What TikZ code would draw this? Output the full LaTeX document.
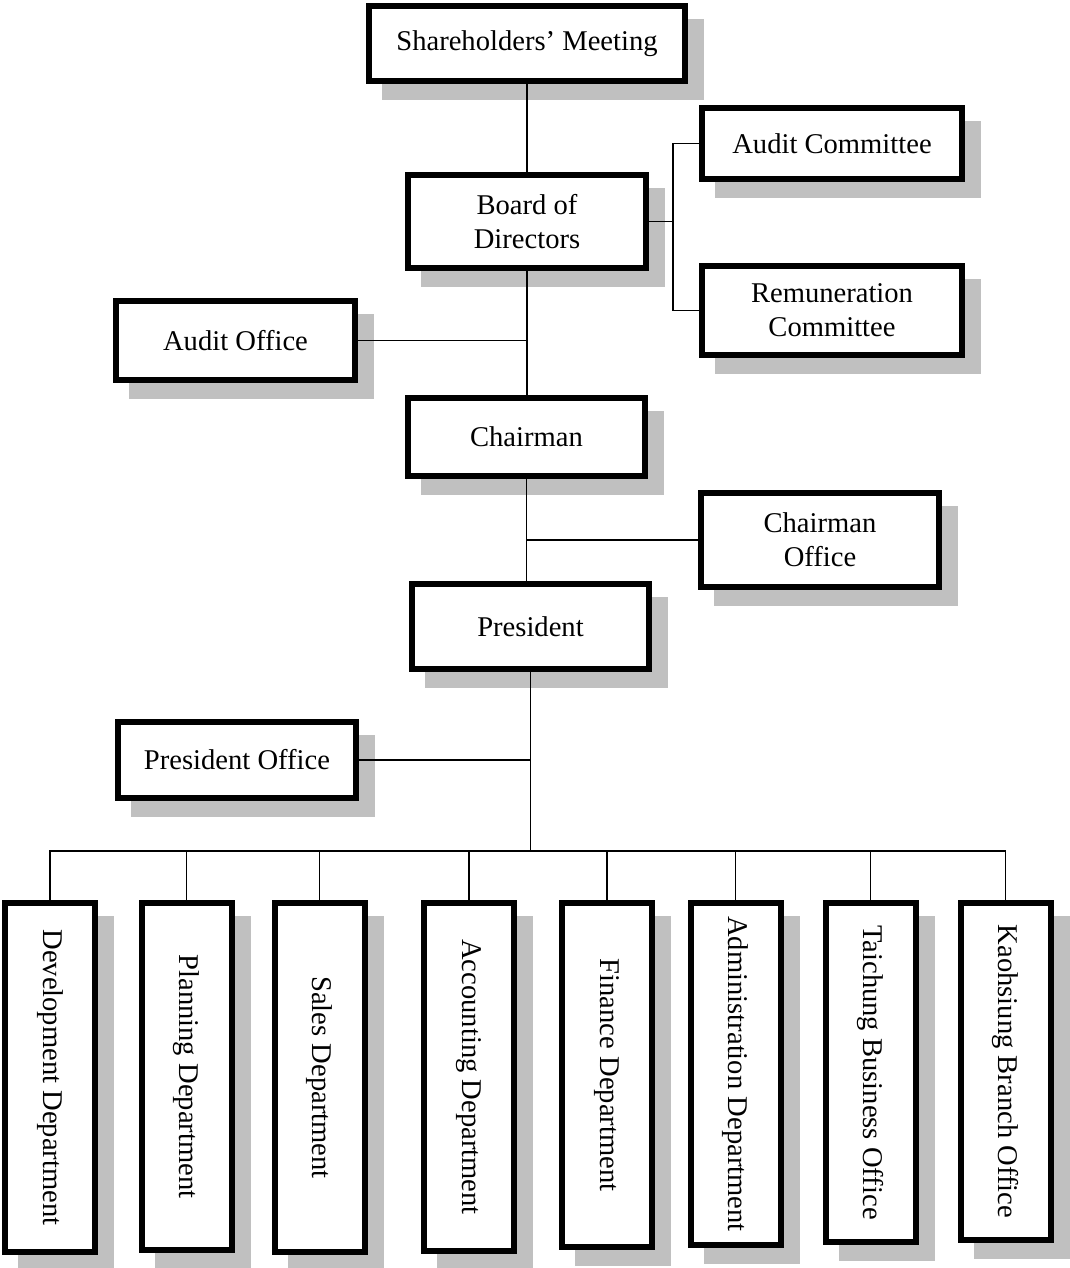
\documentclass[tikz,border=0pt]{standalone}
\usepackage{fontspec}
\setmainfont{Liberation Serif}
\usepackage{xcolor}
\usepackage{tikz}
\usetikzlibrary{positioning,shadows,calc}

\definecolor{shadowgray}{RGB}{192,192,192}

\begin{document}
\begin{tikzpicture}[
    x=1pt, y=-1pt,
    every node/.style={font=\fontsize{28.6}{34}\selectfont},
    orgbox/.style={
      rectangle, draw=black, line width=6pt, fill=white,
      inner sep=0pt, align=center,
      general shadow={fill=shadowgray, draw=shadowgray, line width=6pt,
        shadow xshift=16pt, shadow yshift=-16pt}
    },
    deptbox/.style={
      orgbox, rotate=-90, anchor=west, minimum width=#1, minimum height=90pt
    },
    deptbox/.default=348pt,
    link/.style={draw=black, line width=1.8pt}
  ]
    \useasboundingbox (0,0) rectangle (1070,1268);

    % upper levels
    \node[orgbox, minimum width=316pt, minimum height=75pt] (share) at (527,43.5) {Shareholders' Meeting};
    \node[orgbox, minimum width=238pt, minimum height=93pt] (board) at (527,221.5) {Board of\\Directors};
    \node[orgbox, minimum width=260pt, minimum height=71pt] (acom) at (832,143.5) {Audit Committee};
    \node[orgbox, minimum width=260pt, minimum height=89pt] (rcom) at (832,310.5) {Remuneration\\Committee};
    \node[orgbox, minimum width=239pt, minimum height=79pt] (aoff) at (235.5,340.5) {Audit Office};
    \node[orgbox, minimum width=237pt, minimum height=78pt] (chair) at (526.5,437) {Chairman};
    \node[orgbox, minimum width=238pt, minimum height=94pt] (coff) at (820,540) {Chairman\\Office};
    \node[orgbox, minimum width=237pt, minimum height=85pt] (pres) at (530.5,626.5) {President};
    \node[orgbox, minimum width=238pt, minimum height=76pt] (poff) at (237,760) {President Office};

    % departments, hung from their top edge
    \node[deptbox=349pt] (dev) at (50,900) {Development Department};
    \node[deptbox=347pt] (plan) at (186.5,900) {Planning Department};
    \node[deptbox=349pt] (sales) at (319.5,900) {Sales Department};
    \node[deptbox=348pt] (acct) at (469,900) {Accounting Department};
    \node[deptbox=344pt] (fin) at (607,900) {Finance Department};
    \node[deptbox=342pt] (adm) at (735.5,900) {Administration Department};
    \node[deptbox=339pt] (tai) at (870.5,900) {Taichung Business Office};
    \node[deptbox=337pt] (kao) at (1005.5,900) {Kaohsiung Branch Office};

    \coordinate (brk) at (673,221.5);
    \coordinate (bus) at (530.5,851);

    % connectors
    \draw[link] (share.south) -- (board.north);
    \draw[link] (board.south) -- (board.south |- chair.north);
    \draw[link] (board.east) -- (brk);
    \draw[link] (acom.west) -- (acom.west -| brk) -- (brk |- rcom.west) -- (rcom.west);
    \draw[link] (aoff.east) -- (aoff.east -| board.south);
    \draw[link] (chair.south) -- (chair.south |- pres.north);
    \draw[link] (coff.west) -- (coff.west -| chair.south);
    \draw[link] (pres.south) -- (bus);
    \draw[link] (poff.east) -- (poff.east -| pres.south);
    \draw[link] (dev.west) -- (dev.west |- bus) -- (kao.west |- bus) -- (kao.west);
    \draw[link] (plan.west) -- (plan.west |- bus);
    \draw[link] (sales.west) -- (sales.west |- bus);
    \draw[link] (acct.west) -- (acct.west |- bus);
    \draw[link] (fin.west) -- (fin.west |- bus);
    \draw[link] (adm.west) -- (adm.west |- bus);
    \draw[link] (tai.west) -- (tai.west |- bus);
  \end{tikzpicture}
\end{document}
